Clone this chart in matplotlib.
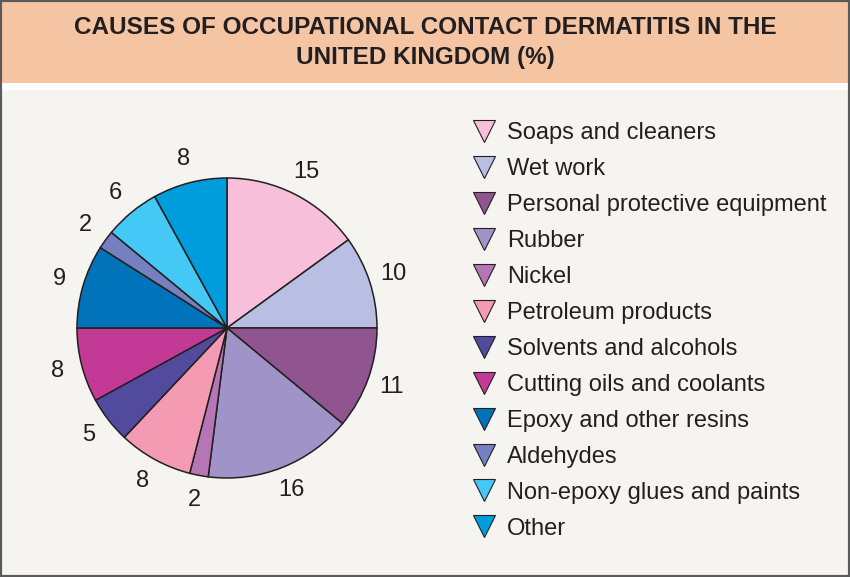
import matplotlib.pyplot as plt
from matplotlib.lines import Line2D
from matplotlib.patches import Rectangle

causes = ["Soaps and cleaners", "Wet work", "Personal protective equipment",
          "Rubber", "Nickel", "Petroleum products", "Solvents and alcohols",
          "Cutting oils and coolants", "Epoxy and other resins", "Aldehydes",
          "Non-epoxy glues and paints", "Other"]
percent = [15, 10, 11, 16, 2, 8, 5, 8, 9, 2, 6, 8]
colours = ["#F7BFDA", "#B8BFE2", "#905591", "#A093C7", "#B675B5", "#F49BB3",
           "#524A9C", "#C33A96", "#0073BA", "#7580C0", "#44C8F5", "#009DDC"]

plt.rcParams['font.family'] = ['Liberation Sans', 'DejaVu Sans']
edge = "#231F20"

fig = plt.figure(figsize=(8.5, 5.77), dpi=100)
fig.patch.set_facecolor("#F5F4F0")

# header band + white strip + border
fig.add_artist(Rectangle((0, 1 - 83/577), 1, 83/577, transform=fig.transFigure,
                         facecolor="#F5C5A3", edgecolor="none", zorder=0))
fig.add_artist(Rectangle((0, 1 - 90/577), 1, 7/577, transform=fig.transFigure,
                         facecolor="white", edgecolor="none", zorder=0))
fig.add_artist(Rectangle((0, 0), 1, 1, transform=fig.transFigure,
                         facecolor="none", edgecolor="#5A5A5A", linewidth=3, zorder=5))

fig.text(0.5, 1 - 42.5/577, "CAUSES OF OCCUPATIONAL CONTACT DERMATITIS IN THE\nUNITED KINGDOM (%)",
         ha="center", va="center", fontsize=17.5, fontweight="bold",
         linespacing=1.4, color="#231F20")

# pie
cx, cy, r = 227, 328, 150
ax = fig.add_axes([(cx - r)/850, (577 - cy - r)/577, 2*r/850, 2*r/577])
wedges, texts = ax.pie(percent, colors=colours, labels=[str(p) for p in percent],
                       startangle=90, counterclock=False, labeldistance=1.165,
                       wedgeprops=dict(edgecolor=edge, linewidth=1.1),
                       textprops=dict(fontsize=17, color="#231F20"))
for t in texts:
    t.set_ha("center")
ax.set_xlim(-1, 1)
ax.set_ylim(-1, 1)
ax.set_aspect("equal")
ax.axis("off")

# legend
handles = [Line2D([], [], linestyle="none", marker="v", markersize=16,
                  markerfacecolor=c, markeredgecolor=edge, markeredgewidth=0.8)
           for c in colours]
fig.legend(handles, causes, loc="upper left", bbox_to_anchor=(460/850, 1 - 113/577),
           frameon=False, fontsize=17, labelspacing=0.59, handletextpad=0.4,
           handlelength=1.2, borderaxespad=0, labelcolor="#231F20")

fig.savefig("out.png", dpi=100, facecolor=fig.get_facecolor())
